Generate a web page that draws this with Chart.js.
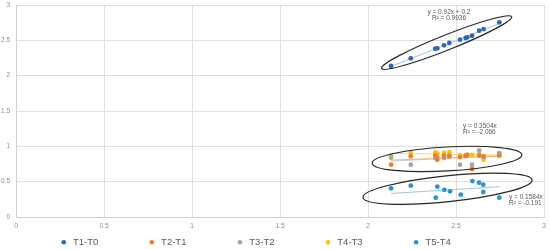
<!DOCTYPE html>
<html>
<head>
<meta charset="utf-8">
<script src="https://cdn.jsdelivr.net/npm/chart.js@4.4.1/dist/chart.umd.min.js"></script>
<style>
  html, body { margin: 0; padding: 0; background: #fff; }
  #wrap { width: 550px; height: 249px; }
</style>
</head>
<body>
<div id="wrap"><canvas id="myChart"></canvas></div>
<script>
// series names and values
const seriesNames = ['T1-T0', 'T2-T1', 'T3-T2', 'T4-T3', 'T5-T4'];
const xShared = [2.131, 2.243, 2.382, 2.394, 2.432, 2.462, 2.523, 2.555, 2.564, 2.591, 2.632, 2.657, 2.746];
const t1t0 = [2.137, 2.246, 2.382, 2.387, 2.43, 2.462, 2.509, 2.533, 2.543, 2.565, 2.636, 2.66, 2.755];
const t2t1 = [0.74, 0.86, 0.873, 0.81, 0.868, 0.859, 0.849, 0.868, 0.88, 0.679, 0.87, 0.859, 0.868];
const t3t2 = [0.84, 0.74, 0.835, 0.85, 0.835, 0.87, 0.74, 0.86, 0.87, 0.74, 0.944, 0.85, 0.9];
const t4t3 = [0.868, 0.906, 0.915, 0.9, 0.906, 0.915, 0.87, 0.875, 0.88, 0.88, 0.89, 0.81, 0.906];
const t5x = [2.131, 2.243, 2.385, 2.394, 2.434, 2.466, 2.527, 2.593, 2.631, 2.655, 2.655, 2.746];
const t5t4 = [0.406, 0.443, 0.273, 0.429, 0.385, 0.364, 0.316, 0.509, 0.485, 0.457, 0.354, 0.273];
const axisTicks = [0, 0.5, 1, 1.5, 2, 2.5, 3];
const trendNotes = [
  ['y = 0.92x + 0.2', 'R² = 0.9936'],
  ['y = 0.3504x', 'R² = -2.066'],
  ['y = 0.1584x', 'R² = -0.191']
];

const colors = ['#2E67B5', '#ED7D31', '#A5A5A5', '#FFC000', '#2A93D5'];
const trendColors = ['#9DC3E6', '#F4B183', '#C9C9C9', '#FFD966', '#9DC3E6'];

const seriesX = [xShared, xShared, xShared, xShared, t5x];
const seriesY = [t1t0, t2t1, t3t2, t4t3, t5t4];
const throughOrigin = [false, false, false, false, true];

function fit(xs, ys, origin) {
  if (origin) {
    let sxy = 0, sxx = 0;
    xs.forEach((x, i) => { sxy += x * ys[i]; sxx += x * x; });
    return { m: sxy / sxx, b: 0 };
  }
  const n = xs.length;
  const mx = xs.reduce((a, b) => a + b, 0) / n;
  const my = ys.reduce((a, b) => a + b, 0) / n;
  let num = 0, den = 0;
  xs.forEach((x, i) => { num += (x - mx) * (ys[i] - my); den += (x - mx) * (x - mx); });
  const m = num / den;
  return { m, b: my - m * mx };
}

const pointSets = seriesNames.map((name, i) => ({
  label: name,
  data: seriesX[i].map((x, j) => ({ x, y: seriesY[i][j] })),
  backgroundColor: colors[i],
  borderWidth: 0,
  pointRadius: 2.4,
  pointStyle: 'circle',
  order: 1
}));

const trendSets = seriesNames.map((name, i) => {
  const xs = seriesX[i];
  const f = fit(xs, seriesY[i], throughOrigin[i]);
  const lo = Math.min(...xs), hi = Math.max(...xs);
  return {
    label: name + ' trend',
    data: [{ x: lo, y: f.m * lo + f.b }, { x: hi, y: f.m * hi + f.b }],
    showLine: true,
    borderColor: trendColors[i],
    borderWidth: 1,
    pointRadius: 0,
    order: 2
  };
});

// hand drawn ellipses and trend labels, anchored in data units
const ellipses = [
  { x: 2.447, y: 2.469, rx: 70, ry: 7.5, angle: -21.7 },
  { x: 2.449, y: 0.821, rx: 75, ry: 12, angle: -3.2 },
  { x: 2.452, y: 0.40, rx: 85, ry: 13, angle: -5.9 }
];
const noteSpots = [
  { x: 2.46, y: 2.9, align: 'center' },
  { x: 2.54, y: 1.287, align: 'left' },
  { x: 2.801, y: 0.283, align: 'left' }
];

const overlay = {
  id: 'overlay',
  afterDatasetsDraw(chart) {
    const { ctx, scales: { x, y } } = chart;
    ctx.save();
    ctx.strokeStyle = '#262626';
    ctx.lineWidth = 1.2;
    ellipses.forEach(e => {
      ctx.beginPath();
      ctx.ellipse(x.getPixelForValue(e.x), y.getPixelForValue(e.y), e.rx, e.ry, e.angle * Math.PI / 180, 0, Math.PI * 2);
      ctx.stroke();
    });
    ctx.fillStyle = '#595959';
    ctx.font = '6.5px "Liberation Sans"';
    ctx.textBaseline = 'middle';
    trendNotes.forEach((lines, i) => {
      const s = noteSpots[i];
      ctx.textAlign = s.align;
      lines.forEach((t, k) => {
        ctx.fillText(t, x.getPixelForValue(s.x), y.getPixelForValue(s.y) + k * 6.5);
      });
    });
    ctx.restore();
  }
};

// pull the wide-spaced legend back up under the axis (bottom kept so the clip still covers it)
const legendNudge = {
  id: 'legendNudge',
  afterLayout(chart) {
    const lg = chart.legend;
    lg.left -= 17; lg.right -= 17;
    lg.top -= 41.5;
  }
};

const tickFont = { family: 'Liberation Sans', size: 6.5 };

new Chart(document.getElementById('myChart'), {
  type: 'scatter',
  data: { datasets: pointSets.concat(trendSets) },
  plugins: [overlay, legendNudge],
  options: {
    responsive: true,
    maintainAspectRatio: false,
    animation: false,
    layout: { padding: { top: 5, right: 6, left: 0, bottom: 0 } },
    scales: {
      x: {
        type: 'linear', min: 0, max: 3,
        afterBuildTicks: s => { s.ticks = axisTicks.map(v => ({ value: v })); },
        ticks: { font: tickFont, color: '#8C8C8C', padding: 5, callback: v => String(v) },
        grid: { color: '#E0E0E0', drawTicks: false },
        border: { color: '#D0D0D0' },
        afterFit: s => { s.height = 13; s.paddingLeft = 0; s.paddingRight = 0; }
      },
      y: {
        type: 'linear', min: 0, max: 3,
        afterBuildTicks: s => { s.ticks = axisTicks.map(v => ({ value: v })); },
        ticks: { font: tickFont, color: '#8C8C8C', padding: 6, callback: v => String(v) },
        grid: { color: '#E0E0E0', drawTicks: false },
        border: { color: '#D0D0D0' },
        afterFit: s => { s.width = 16; s.paddingTop = 0; s.paddingBottom = 0; }
      }
    },
    plugins: {
      tooltip: { enabled: false },
      legend: {
        position: 'bottom',
        maxHeight: 19,
        labels: {
          filter: item => item.datasetIndex < 5,
          usePointStyle: true,
          boxWidth: 9,
          boxHeight: 3.3,
          padding: 49,
          color: '#595959',
          font: { family: 'Liberation Sans', size: 9.5 }
        }
      }
    }
  }
});
</script>
</body>
</html>
